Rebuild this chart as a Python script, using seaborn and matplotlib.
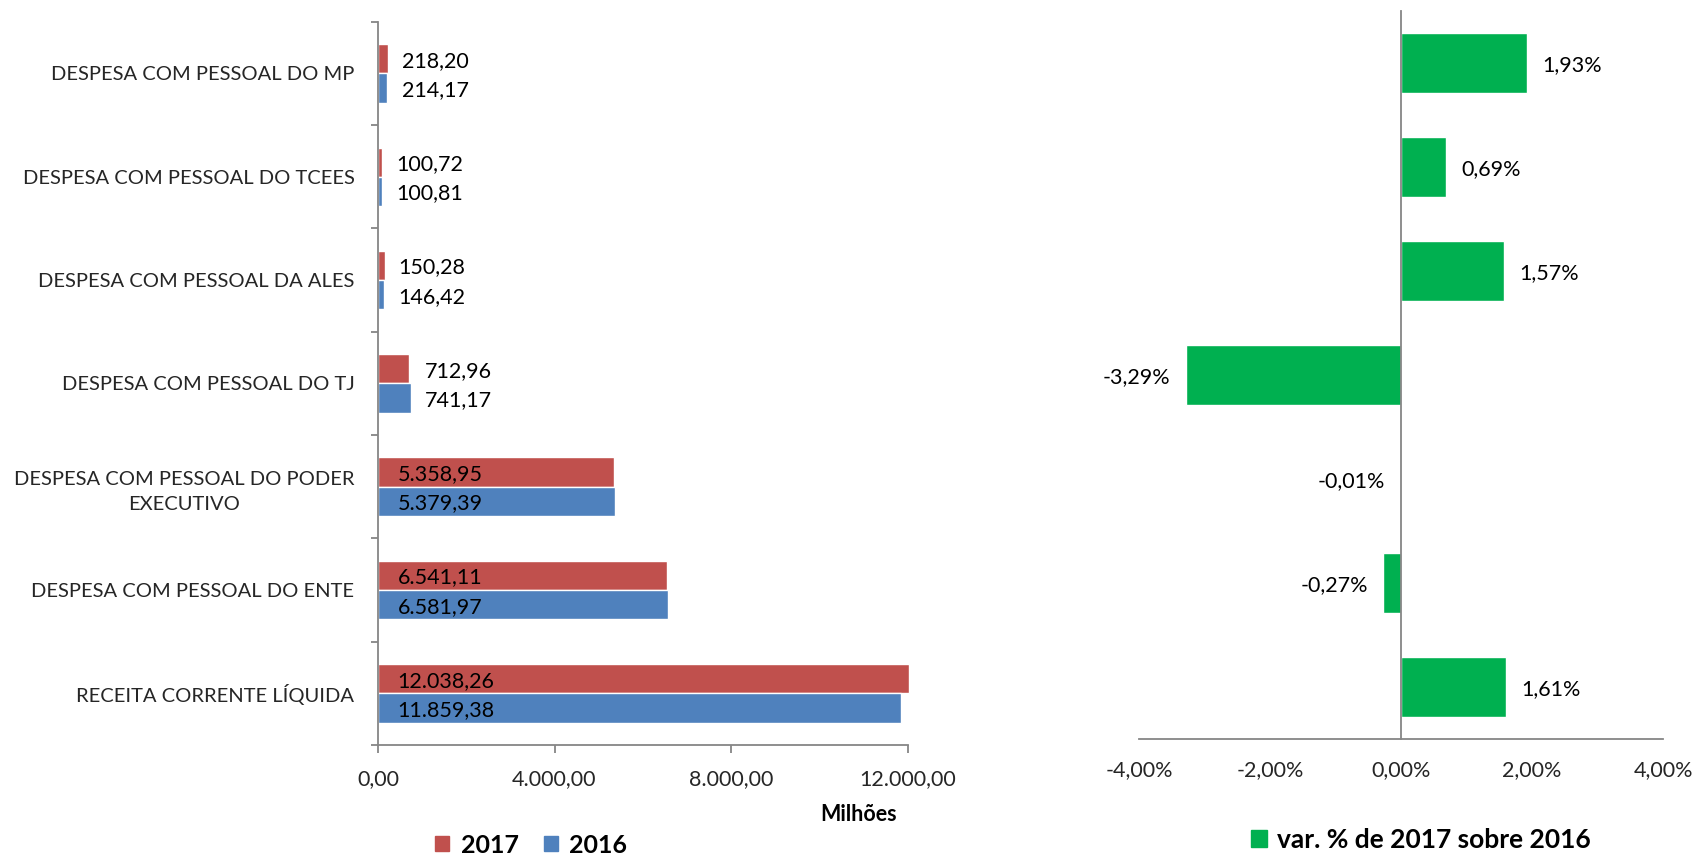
import matplotlib
matplotlib.use("Agg")
import matplotlib.pyplot as plt
import numpy as np
import pandas as pd
import seaborn as sns
from matplotlib.patches import Patch

# Despesa com pessoal (R$ milhões) e variação percentual 2017 x 2016
categorias = [
    "DESPESA COM PESSOAL DO MP",
    "DESPESA COM PESSOAL DO TCEES",
    "DESPESA COM PESSOAL DA ALES",
    "DESPESA COM PESSOAL DO TJ",
    "DESPESA COM PESSOAL DO PODER\nEXECUTIVO",
    "DESPESA COM PESSOAL DO ENTE",
    "RECEITA CORRENTE LÍQUIDA",
]
valores_2017 = [218.20, 100.72, 150.28, 712.96, 5358.95, 6541.11, 12038.26]
valores_2016 = [214.17, 100.81, 146.42, 741.17, 5379.39, 6581.97, 11859.38]
variacao_pct = [1.93, 0.69, 1.57, -3.29, -0.01, -0.27, 1.61]
anos = ["2017", "2016"]
ticks_milhoes = [0, 4000, 8000, 12000]
ticks_pct = [-4, -2, 0, 2, 4]

VERMELHO = "#C0504D"
AZUL = "#4F81BD"
VERDE = "#00B050"
CINZA = "#868686"

sns.set_theme(style="white")
plt.rcParams["font.family"] = ["Lato", "DejaVu Sans"]
plt.rcParams["text.color"] = "black"

FS = 14.5      # rótulos de categoria
FS_NUM = 15.5  # números (eixos e rótulos de valor)


def fmt_br(v):
    s = f"{v:,.2f}"
    return s.replace(",", "X").replace(".", ",").replace("X", ".")


def fmt_pct(v):
    return f"{v:.2f}%".replace(".", ",")


W, H = 1698, 855
fig = plt.figure(figsize=(W / 100, H / 100), dpi=100)


def box(l, t, r, b):
    return [l / W, 1 - b / H, (r - l) / W, (b - t) / H]


ax1 = fig.add_axes(box(378, 21.7, 907.5, 745))
ax2 = fig.add_axes(box(1139, 11, 1663, 739))

# ---------- painel esquerdo: valores absolutos ----------
df = pd.DataFrame({
    "categoria": categorias * 2,
    "ano": [anos[0]] * len(categorias) + [anos[1]] * len(categorias),
    "valor": valores_2017 + valores_2016,
})
sns.barplot(data=df, y="categoria", x="valor", hue="ano", hue_order=anos,
            order=categorias, palette={anos[0]: VERMELHO, anos[1]: AZUL},
            orient="h", width=0.565, saturation=1, errorbar=None,
            legend=False, ax=ax1)
for p in ax1.patches:
    p.set_clip_on(False)

ax1.set_xlim(0, 12000)
ax1.set_ylim(len(categorias) - 0.5, -0.5)
ax1.set_xlabel("")
ax1.set_ylabel("")
for s in ["top", "right"]:
    ax1.spines[s].set_visible(False)
for s in ["left", "bottom"]:
    ax1.spines[s].set_color(CINZA)
    ax1.spines[s].set_linewidth(1.3)

ax1.set_xticks(ticks_milhoes)
ax1.set_xticklabels([fmt_br(v) for v in ticks_milhoes], fontsize=FS_NUM)
ax1.tick_params(axis="x", which="major", direction="out", length=6,
                width=1.3, color=CINZA, pad=11, bottom=True)
ax1.set_yticks(range(len(categorias)))
ax1.set_yticklabels(categorias, fontsize=FS)
for t in ax1.get_yticklabels():
    t.set_multialignment("center")
    t.set_linespacing(1.55)
ax1.tick_params(axis="y", which="major", length=0, pad=17, left=True)
ax1.set_yticks(np.arange(-0.5, len(categorias), 1), minor=True)
ax1.tick_params(axis="y", which="minor", direction="out", length=5,
                width=1.3, color=CINZA, left=True)

# rótulos de valor
for cont in ax1.containers:
    for i, p in enumerate(cont.patches):
        v = p.get_width()
        yc = p.get_y() + p.get_height() / 2
        xm = max(valores_2017[i], valores_2016[i])
        if xm >= 1000:
            ax1.annotate(fmt_br(v), xy=(0, yc), xytext=(14, 0),
                         textcoords="offset points", ha="left",
                         va="center_baseline", fontsize=FS_NUM)
        else:
            ax1.annotate(fmt_br(v), xy=(xm, yc), xytext=(10, 0),
                         textcoords="offset points", ha="left",
                         va="center_baseline", fontsize=FS_NUM)

fig.text(859 / W, 1 - 814 / H, "Milhões", ha="center", va="center",
         fontsize=15.5, fontweight="bold")
fig.legend(handles=[Patch(color=VERMELHO, label=anos[0]),
                    Patch(color=AZUL, label=anos[1])],
           loc="center", bbox_to_anchor=(531 / W, 1 - 845 / H), ncol=2,
           frameon=False, prop=dict(weight="bold", size=18),
           handlelength=0.58, handleheight=0.58, handletextpad=0.45,
           columnspacing=1.0, borderpad=0)

# ---------- painel direito: variação % ----------
sns.barplot(x=variacao_pct, y=categorias, order=categorias, color=VERDE,
            saturation=1, orient="h", width=0.573, errorbar=None, ax=ax2)
ax2.set_xlim(ticks_pct[0], ticks_pct[-1])
ax2.set_ylim(len(categorias) - 0.5, -0.5)
ax2.set_xlabel("")
ax2.set_ylabel("")
ax2.set_yticks([])
for s in ["top", "right"]:
    ax2.spines[s].set_visible(False)
ax2.spines["left"].set_position(("data", 0))
for s in ["left", "bottom"]:
    ax2.spines[s].set_color(CINZA)
    ax2.spines[s].set_linewidth(1.3)
ax2.set_xticks(ticks_pct)
ax2.set_xticklabels([fmt_pct(v) for v in ticks_pct], fontsize=FS_NUM)
ax2.tick_params(axis="x", length=0, pad=15.5)

for p, v in zip(ax2.containers[0].patches, variacao_pct):
    yc = p.get_y() + p.get_height() / 2
    off = 11 if v >= 0 else -11
    ax2.annotate(fmt_pct(v), xy=(v, yc), xytext=(off, 0),
                 textcoords="offset points",
                 ha="left" if v >= 0 else "right", va="center_baseline",
                 fontsize=FS_NUM)

fig.legend(handles=[Patch(color=VERDE, label="var. % de 2017 sobre 2016")],
           loc="center", bbox_to_anchor=(1421 / W, 1 - 840 / H),
           frameon=False, prop=dict(weight="bold", size=19),
           handlelength=0.58, handleheight=0.58, handletextpad=0.4,
           borderpad=0)

fig.savefig("out.png", dpi=100, facecolor="white")
